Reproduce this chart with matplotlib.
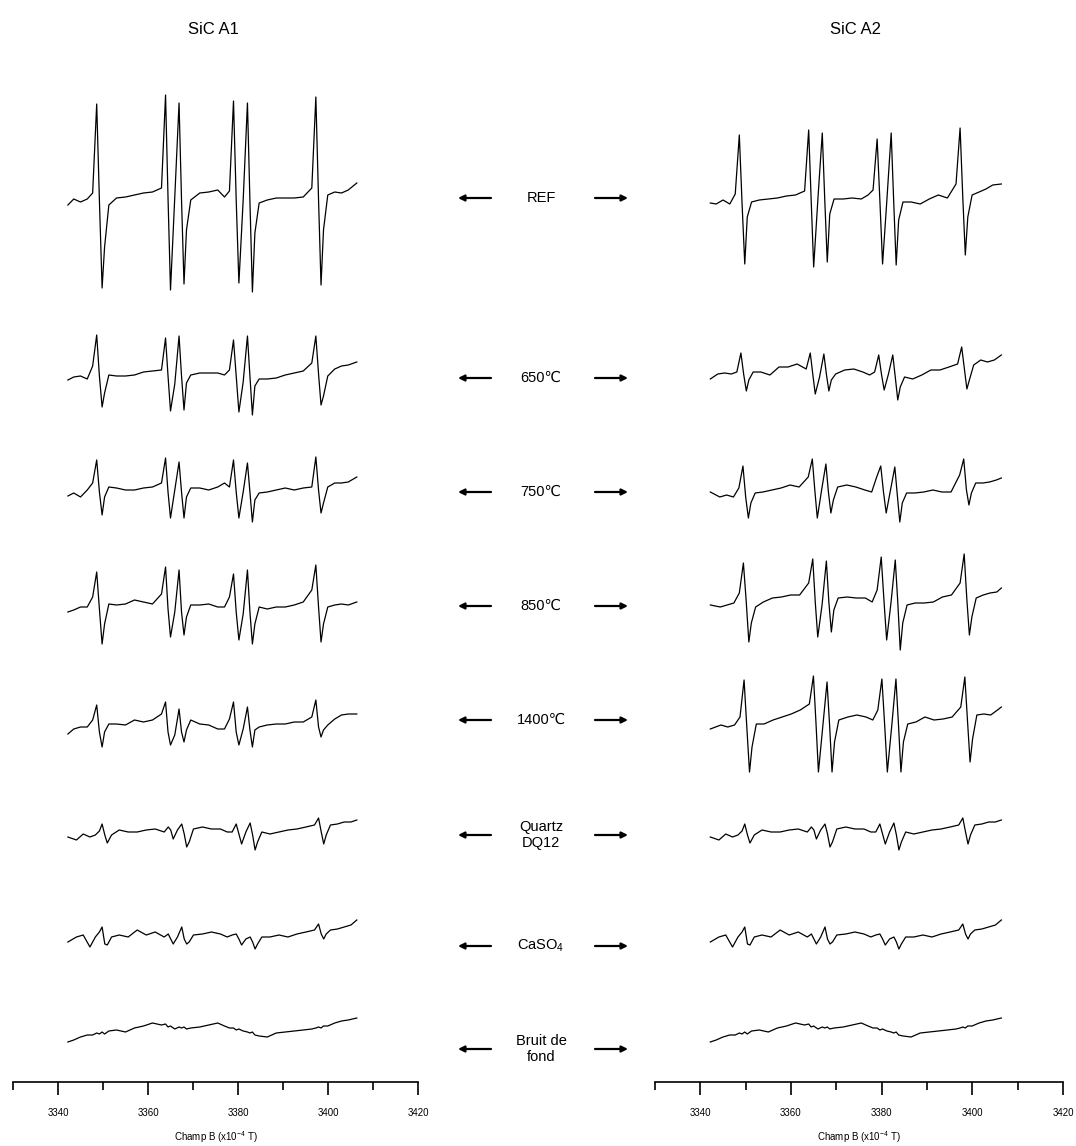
import numpy as np
import matplotlib
matplotlib.use('Agg')
import matplotlib.pyplot as plt

plt.rcParams['font.family'] = ['Liberation Sans', 'DejaVu Sans']
plt.rcParams['mathtext.fontset'] = 'custom'
plt.rcParams['mathtext.rm'] = 'Liberation Sans'
plt.rcParams['mathtext.it'] = 'Liberation Sans:italic'

FIELD = [
    3342.2, 3343.5, 3345.0, 3346.5,
    3347.7, 3348.6, 3349.2, 3349.8, 3350.35, 3351.3,
    3353.0, 3355.0, 3357.0, 3359.0, 3361.0, 3363.0,
    3363.9, 3364.45, 3365.0,
    3365.95,
    3366.9, 3367.45, 3368.0, 3368.55, 3369.5,
    3371.5, 3373.5, 3375.5, 3377.0, 3378.1,
    3379.0, 3379.6, 3380.2,
    3381.15,
    3382.1, 3382.65, 3383.2, 3383.75, 3384.7,
    3386.5, 3388.5, 3390.5, 3392.5, 3394.5, 3396.4,
    3397.3, 3397.9, 3398.45, 3399.0, 3399.95,
    3401.5, 3403.0, 3404.5, 3406.4,
]

# EPR signal (arbitrary units), one list per spectrum
ref_a1 = [-2, 4, 1, 4,
          10, 99, 3, -85, -44, -2,
          5, 6, 8, 10, 11, 15,
          108, 5, -87,
          6,
          100, 3, -81, -27, 3,
          10, 11, 13, 6, 12,
          102, 3, -80,
          3,
          100, 2, -89, -30, 0,
          3, 5, 5, 5, 6, 15,
          106, 3, -82, -27, 8,
          11, 10, 13, 20]
ref_a2 = [0, -1, 3, -1,
          9, 68, 0, -61, -14, 1,
          3, 4, 5, 7, 8, 12,
          73, 3, -64,
          5,
          70, 3, -59, -11, 4,
          4, 5, 4, 8, 13,
          64, 3, -61,
          3,
          70, 2, -62, -17, 1,
          1, -1, 4, 8, 5, 19,
          75, 5, -52, -14, 8,
          11, 14, 18, 19]
t650_a1 = [-1, 2, 3, 0,
           13, 44, 3, -28, -14, 4,
           3, 3, 4, 7, 8, 9,
           41, 3, -32,
           -5,
           43, 3, -31, -4, 4,
           6, 6, 6, 4, 9,
           39, 3, -33,
           -3,
           43, 3, -36, -7, 0,
           0, 1, 4, 6, 8, 16,
           43, 5, -26, -17, 3,
           10, 13, 14, 17]
t650_a2 = [-2, 3, 4, 3,
           5, 24, 3, -14, -3, 5,
           5, 2, 10, 10, 13, 8,
           24, 3, -17,
           0,
           23, 3, -14, -3, 3,
           7, 8, 5, 2, 5,
           22, 3, -13,
           3,
           22, 0, -23, -10, 0,
           -2, 2, 7, 7, 10, 13,
           30, 8, -12, -3, 12,
           17, 15, 17, 22]
t750_a1 = [-1, 2, -2, 5,
           12, 35, 3, -20, -2, 8,
           7, 5, 5, 7, 8, 12,
           37, 3, -23,
           5,
           33, 3, -23, -2, 7,
           7, 5, 8, 12, 8,
           35, 3, -23,
           3,
           32, 3, -27, -5, 2,
           3, 5, 7, 5, 7, 8,
           38, 5, -18, -8, 8,
           12, 12, 13, 18]
t750_a2 = [3, -2, 0, -2,
           7, 29, -2, -23, -8, 2,
           3, 5, 7, 10, 8, 18,
           36, 5, -23,
           5,
           31, 3, -18, -5, 8,
           10, 8, 5, 3, 18,
           29, 3, -18,
           5,
           28, 0, -27, -8, 2,
           2, 3, 5, 3, 3, 20,
           36, 5, -10, 2, 12,
           12, 13, 15, 17]
t850_a1 = [0, 2, 5, 5,
           15, 40, 3, -32, -12, 8,
           7, 8, 12, 10, 8, 18,
           45, 3, -25,
           0,
           42, 0, -23, -5, 7,
           7, 8, 5, 5, 15,
           38, 0, -28,
           -2,
           42, 0, -32, -12, 5,
           3, 5, 5, 7, 10, 22,
           47, 5, -30, -12, 5,
           7, 8, 7, 10]
t850_a2 = [0, -2, 0, 2,
           12, 42, 5, -37, -18, -2,
           3, 7, 8, 10, 10, 22,
           46, 3, -32,
           0,
           44, 3, -27, -5, 7,
           8, 7, 7, 3, 15,
           48, 5, -35,
           2,
           45, 3, -45, -18, 0,
           2, 2, 3, 8, 10, 22,
           51, 5, -30, -12, 7,
           10, 12, 13, 17]
t1400_a1 = [-2, 3, 5, 5,
            12, 27, 0, -15, 0, 8,
            8, 7, 12, 10, 12, 18,
            30, 0, -13,
            -3,
            23, 0, -10, 2, 12,
            8, 7, 3, 3, 13,
            30, 0, -13,
            3,
            25, 2, -15, 2, 5,
            7, 8, 8, 10, 10, 15,
            32, 5, -5, 2, 7,
            13, 17, 18, 18]
t1400_a2 = [-2, 2, 0, 2,
            10, 47, 0, -45, -20, 3,
            3, 7, 10, 13, 17, 23,
            51, 5, -45,
            0,
            45, 3, -45, -15, 7,
            10, 12, 10, 7, 17,
            48, 3, -45,
            0,
            48, 3, -45, -15, 3,
            5, 10, 7, 8, 10, 20,
            50, 5, -35, -12, 12,
            13, 12, 17, 20]
quartz = [0, -3, 3, 0,
          2, 6, 13, 2, -6, 2,
          7, 5, 5, 7, 8, 5,
          10, 7, -2,
          7,
          13, 3, -10, -5, 8,
          10, 8, 8, 5, 5,
          13, 3, -7,
          5,
          14, 2, -13, -5, 5,
          3, 5, 7, 8, 10, 12,
          19, 5, -7, 2, 12,
          13, 15, 15, 17]
caso4 = [0, 5, 7, -5,
         5, 10, 15, -2, -3, 5,
         7, 5, 12, 7, 10, 5,
         8, 3, -2,
         5,
         15, 3, -2, 0, 7,
         8, 10, 8, 5, 7,
         8, 3, -3,
         3,
         5, 0, -7, -2, 5,
         5, 7, 5, 8, 10, 12,
         18, 8, 3, 8, 12,
         13, 15, 17, 22]
bruit = [-2, 0, 3, 5,
         5, 7, 6, 8, 6, 9,
         10, 8, 12, 14, 17, 15,
         16, 13, 14,
         11,
         13, 12, 13, 11, 12,
         13, 15, 17, 14, 12,
         12, 10, 11,
         9,
         8, 7, 8, 5, 4,
         3, 7, 8, 9, 10, 11,
         12, 13, 12, 14, 14,
         17, 19, 20, 22]

# field shift of each spectrum's lines
shift_a1 = [0, 0, 0, 0, 0, 0.6, 0.6, 0]
shift_a2 = [0, 0.35, 0.8, 0.9, 1.05, 0.6, 0.6, 0]

spectra_a1 = [ref_a1, t650_a1, t750_a1, t850_a1, t1400_a1, quartz, caso4, bruit]
spectra_a2 = [ref_a2, t650_a2, t750_a2, t850_a2, t1400_a2, quartz, caso4, bruit]
labels = ['REF', '650\u2103', '750\u2103', '850\u2103', '1400\u2103',
          'Quartz\nDQ12', 'CaSO$_4$', 'Bruit de\nfond']
titles = ['SiC A1', 'SiC A2']

# layout (image pixels)
W, H = 1076, 1146
rows_a1 = [203, 379, 495, 612, 732, 837, 942, 1040]
rows_a2 = [203, 377, 495, 605, 727, 837, 942, 1040]
label_y = [198, 378, 492, 606, 720, 835, 946, 1049]
axis_y = 1082

fig = plt.figure(figsize=(W / 100, H / 100), dpi=100)

field = np.array(FIELD)
for (x0, x1), spectra, rows, shifts in [((13, 418), spectra_a1, rows_a1, shift_a1),
                                         ((655, 1063), spectra_a2, rows_a2, shift_a2)]:
    ax = fig.add_axes([x0 / W, (H - axis_y) / H, (x1 - x0) / W, axis_y / H])
    for sp, r, s in zip(spectra, rows, shifts):
        x = field + s
        x[0], x[-1] = field[0], field[-1]
        ax.plot(x, -r + np.array(sp), color='black', lw=0.9)
    ax.set_xlim(3330, 3420)
    ax.set_ylim(-axis_y, 0)
    for side in ['top', 'left', 'right']:
        ax.spines[side].set_visible(False)
    ax.spines['bottom'].set_linewidth(1.2)
    ax.set_yticks([])
    ax.set_xticks([3340, 3360, 3380, 3400, 3420])
    ax.set_xticks(np.arange(3330, 3421, 10), minor=True)
    ax.tick_params(axis='x', which='both', direction='out', width=1.2, length=9,
                   labelsize=7, pad=10)
    ax.tick_params(axis='x', which='minor', length=6)
    ax.set_xlabel('Champ B (x10$^{-4}$ T)', fontsize=7, labelpad=8)
    ax.patch.set_visible(False)

# overlay for titles, labels and arrows
ov = fig.add_axes([0, 0, 1, 1])
ov.set_xlim(0, W)
ov.set_ylim(H, 0)
ov.axis('off')
ov.patch.set_visible(False)

ov.text(213, 30, titles[0], ha='center', va='center', fontsize=12)
ov.text(855, 30, titles[1], ha='center', va='center', fontsize=12)

for lab, y in zip(labels, label_y):
    ov.text(541, y, lab, ha='center', va='center', fontsize=10.5, linespacing=1.2)
    ov.annotate('', xy=(458, y), xytext=(491, y),
                arrowprops=dict(arrowstyle='-|>', lw=1.6, color='black',
                                mutation_scale=9, shrinkA=0, shrinkB=0))
    ov.annotate('', xy=(628, y), xytext=(595, y),
                arrowprops=dict(arrowstyle='-|>', lw=1.6, color='black',
                                mutation_scale=9, shrinkA=0, shrinkB=0))

fig.savefig('out.png', dpi=100)
